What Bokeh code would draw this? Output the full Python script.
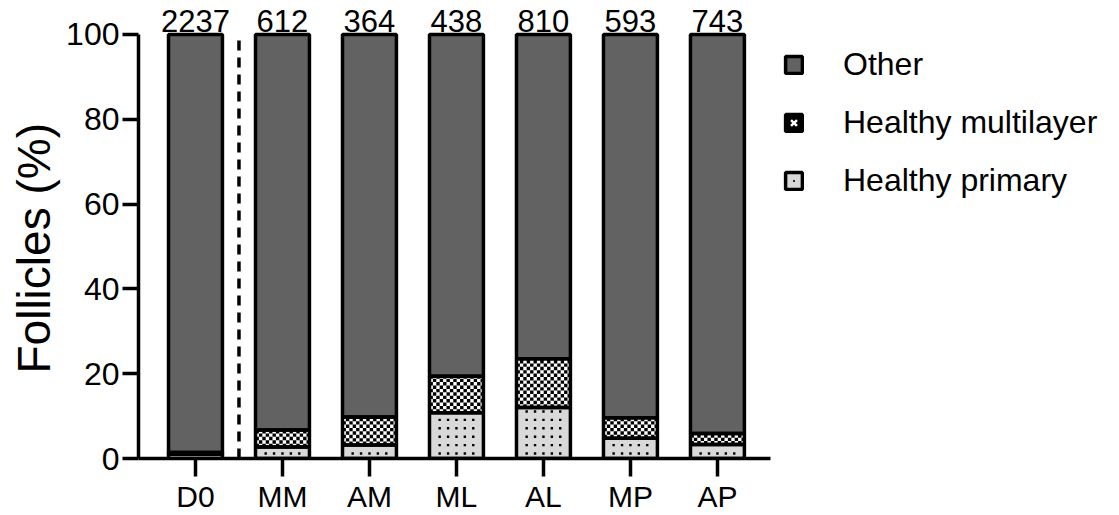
import numpy as np
from bokeh.plotting import figure
from bokeh.models import (ColumnDataSource, Range1d, FixedTicker, LabelSet,
                          Legend, LegendItem, Title)
from bokeh.core.properties import value
from bokeh.embed import file_html
from bokeh.resources import INLINE

# ---- data ----
groups = ["D0", "MM", "AM", "ML", "AL", "MP", "AP"]
counts = [2237, 612, 364, 438, 810, 593, 743]
healthy_primary = [1.0, 2.7, 3.2, 10.8, 12.0, 4.8, 3.3]
healthy_multilayer = [0.4, 4.0, 6.6, 8.6, 11.5, 4.8, 2.6]
other = [100 - a - b for a, b in zip(healthy_primary, healthy_multilayer)]
separator_after = "D0"
y_ticks = [0, 20, 40, 60, 80, 100]

FONT = "Liberation Sans"
C_OTHER = "#626262"
C_PRIM = "#d9d9d9"

# ---- geometry of the plot ----
X0, X1 = -0.655, 6.61
Y0, Y1 = 0, 108
FW, FH = 632, 458
PX_X = FW / (X1 - X0)
PX_Y = FH / (Y1 - Y0)
W = 0.62
LW = 3.5

x = np.arange(len(groups))
hp = np.array(healthy_primary, dtype=float)
hm = np.array(healthy_multilayer, dtype=float)
ot = np.array(other, dtype=float)
src = ColumnDataSource(dict(
    x=x, label=[str(c) for c in counts], top_all=hp + hm + ot,
    p0=np.zeros(len(x)), p1=hp, m0=hp, m1=hp + hm, o0=hp + hm, o1=hp + hm + ot,
))

# ---- pattern textures (checker for multilayer, dots for primary) ----
cell = 3.4  # px
cx, cy = cell / PX_X, cell / PX_Y
ql, qr, qb, qt = [], [], [], []
for i in range(len(x)):
    left, right = x[i] - W / 2, x[i] + W / 2
    b, t = hp[i], hp[i] + hm[i]
    ncol = int(np.ceil((right - left) / cx))
    nrow = int(np.ceil((t - b) / cy))
    for r in range(nrow):
        for c in range(ncol):
            if (r + c) % 2 == 0:
                l0 = left + c * cx
                b0 = b + r * cy
                ql.append(l0); qr.append(min(l0 + cx, right))
                qb.append(b0); qt.append(min(b0 + cy, t))
checker_src = ColumnDataSource(dict(left=ql, right=qr, bottom=qb, top=qt))

dsp = 8.4  # px
dx = dsp / PX_X
dot_x, dot_y = [], []
for i in range(len(x)):
    ys = (5 + np.arange(20) * dsp) / PX_Y
    ys = ys[(ys > 2 / PX_Y) & (ys < hp[i] - 2 / PX_Y)]
    xs = x[i] + (np.arange(5) - 2) * dx
    for yy in ys:
        for xx in xs:
            dot_x.append(xx); dot_y.append(yy)
dot_src = ColumnDataSource(dict(x=dot_x, y=dot_y))

p = figure(width=1119, height=515, output_backend="svg", toolbar_location=None,
           x_range=Range1d(X0, X1), y_range=Range1d(Y0, Y1),
           min_border_left=138, min_border_right=349, min_border_top=0,
           min_border_bottom=57)
p.frame_width = FW
p.frame_height = FH
p.outline_line_color = None
p.grid.visible = False
p.background_fill_color = "white"

# fills
p.vbar(x="x", bottom="p0", top="p1", width=W, source=src, fill_color=C_PRIM, line_color=None)
p.vbar(x="x", bottom="m0", top="m1", width=W, source=src, fill_color="white", line_color=None)
p.vbar(x="x", bottom="o0", top="o1", width=W, source=src, fill_color=C_OTHER, line_color=None)
# patterns
p.quad(left="left", right="right", bottom="bottom", top="top", source=checker_src,
       fill_color="black", line_color=None)
p.rect(x="x", y="y", width=2.4, height=2.4, width_units="screen", height_units="screen",
       source=dot_src, fill_color="black", line_color=None)
# outlines
for b, t in (("p0", "p1"), ("m0", "m1"), ("o0", "o1")):
    p.vbar(x="x", bottom=b, top=t, width=W, source=src, fill_color=None,
           line_color="black", line_width=LW)

# dashed separator
sx = groups.index(separator_after) + 0.5
p.segment(x0=[sx], x1=[sx], y0=[0], y1=[100], line_color="black", line_width=3.5,
          line_dash="10 7")

labels = LabelSet(x="x", y="top_all", text="label", source=src, text_align="center",
                  text_baseline="alphabetic", y_offset=2, text_font=value(FONT),
                  text_font_size="31px", text_color="black")
p.add_layout(labels)

# axes
p.xaxis.ticker = FixedTicker(ticks=list(x))
p.xaxis.major_label_overrides = {int(i): g for i, g in zip(x, groups)}
p.yaxis.ticker = FixedTicker(ticks=y_ticks)
p.yaxis.bounds = (0, 100)
for ax in (p.xaxis, p.yaxis):
    ax.axis_line_width = LW
    ax.axis_line_color = "black"
    ax.major_tick_line_width = LW
    ax.major_tick_line_color = "black"
    ax.major_tick_in = 0
    ax.minor_tick_line_color = None
    ax.major_label_text_font = FONT
    ax.major_label_text_color = "black"
p.xaxis.major_label_text_font_size = "30px"
p.yaxis.major_label_text_font_size = "32px"
p.xaxis.major_tick_out = 18
p.xaxis.major_label_standoff = 3
p.yaxis.major_tick_out = 16
p.yaxis.major_label_standoff = 3

ytitle = Title(text="Follicles (%)", align="left", offset=85, standoff=8,
               text_font=FONT, text_font_size="46px", text_font_style="normal",
               text_color="black")
p.add_layout(ytitle, "left")

# legend swatches (single NaN point so only the legend glyph is drawn)
nan = [np.nan]
lg_other = p.vbar(x=nan, top=nan, width=W, fill_color=C_OTHER, line_color="black", line_width=LW)
lg_multi = p.vbar(x=nan, top=nan, width=W, fill_color="black", line_color="black", line_width=LW)
lg_multi_x = p.scatter(x=nan, y=nan, marker="x", line_color="white", line_width=2.5)
lg_prim = p.vbar(x=nan, top=nan, width=W, fill_color=C_PRIM, line_color="black", line_width=LW)
lg_dot = p.scatter(x=nan, y=nan, marker="dot", line_color="black", fill_color="black",
                   line_width=2)

legend = Legend(items=[LegendItem(label="Other", renderers=[lg_other]),
                       LegendItem(label="Healthy multilayer", renderers=[lg_multi, lg_multi_x]),
                       LegendItem(label="Healthy primary", renderers=[lg_prim, lg_dot])],
                location=(13, 259), glyph_width=21, glyph_height=21,
                label_text_font=FONT, label_text_font_size="32px",
                label_standoff=39, spacing=21, padding=0, margin=0,
                border_line_color=None, background_fill_alpha=0,
                label_text_baseline="middle", label_text_color="black")
p.add_layout(legend, "right")

open("out.html", "w").write(file_html(p, INLINE))
